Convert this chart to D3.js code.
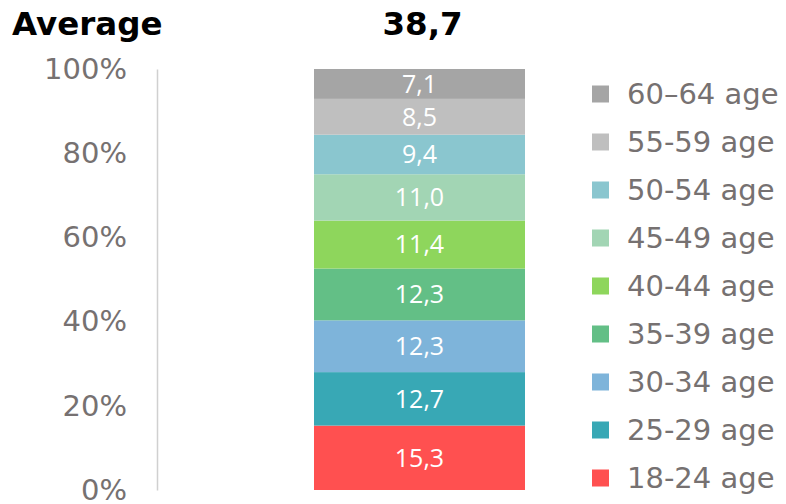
<!DOCTYPE html>
<html><head><meta charset="utf-8">
<script src="https://cdn.jsdelivr.net/npm/d3@7"></script>
<style>body{margin:0;background:#fff}svg{display:block}</style>
</head><body>
<script>
const categories = ["18-24 age","25-29 age","30-34 age","35-39 age","40-44 age","45-49 age","50-54 age","55-59 age","60\u201364 age"];
const values = [15.3,12.7,12.3,12.3,11.4,11.0,9.4,8.5,7.1];
const colors = ["#FF5050","#38A8B5","#7EB4DA","#63BF86","#8ED65C","#A2D5B4","#8AC6CF","#BFBFBF","#A5A5A5"];
const ticks = [0,20,40,60,80,100];
const groupLabel = "Average";
const averageLabel = "38,7";

const W=786,H=504;
const svg=d3.select("body").append("svg").attr("width",W).attr("height",H);
const y=d3.scaleLinear().domain([0,100]).range([490,69]);
const bx=314,bw=211;

// title texts
svg.append("text").attr("x",12).attr("y",35).text(groupLabel)
  .attr("font-family","DejaVu Sans").attr("font-weight","bold").attr("font-size",32.5).attr("fill","#000");
svg.append("text").attr("x",bx+bw/2+3).attr("y",35).attr("text-anchor","middle").text(averageLabel)
  .attr("font-family","DejaVu Sans").attr("font-weight","bold").attr("font-size",32.5).attr("fill","#000");

// axis
const ax=svg.append("g").attr("transform","translate(157,0)")
  .call(d3.axisLeft(y).tickValues(ticks).tickFormat(d=>d+"%").tickSize(0).tickPadding(30));
ax.select(".domain").attr("stroke","#D0D0D0").attr("stroke-width",1.5);
ax.selectAll("text").attr("font-family","DejaVu Sans").attr("font-size",29).attr("fill","#767171");

// stacked bar
let cum=0;
const segs=values.map((v,i)=>{const s={v,i,y0:cum,y1:cum+v};cum+=v;return s;});
svg.selectAll("rect.seg").data(segs).enter().append("rect").attr("class","seg")
  .attr("x",bx).attr("width",bw)
  .attr("y",d=>y(d.y1)).attr("height",d=>y(d.y0)-y(d.y1))
  .attr("fill",d=>colors[d.i]);
svg.selectAll("text.lab").data(segs).enter().append("text").attr("class","lab")
  .attr("x",bx+bw/2).attr("y",d=>(y(d.y0)+y(d.y1))/2).attr("dy","0.35em")
  .attr("text-anchor","middle").attr("font-family","Open Sans").attr("font-size",25).attr("fill","#fff")
  .text(d=>d.v.toFixed(1).replace(".",","));

// legend
const leg=svg.selectAll("g.leg").data(categories.map((c,i)=>({c,i})).reverse()).enter().append("g")
  .attr("transform",(d,k)=>`translate(592,${94+k*48})`);
leg.append("rect").attr("x",0).attr("y",-8.5).attr("width",17).attr("height",17).attr("fill",d=>colors[d.i]);
leg.append("text").attr("x",35).attr("y",0).attr("dy","0.35em")
  .attr("font-family","DejaVu Sans").attr("font-size",29).attr("fill","#767171").text(d=>d.c);
</script>
</body></html>
